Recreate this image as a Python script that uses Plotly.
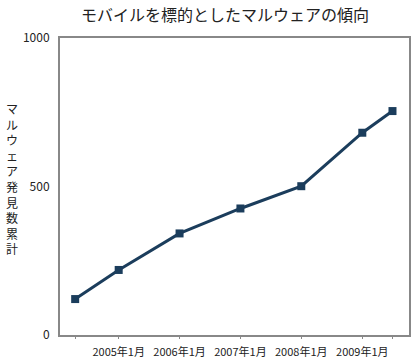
import plotly.graph_objects as go

dates = ["2004-04-15", "2005-01-01", "2006-01-01", "2007-01-01", "2008-01-01", "2009-01-01", "2009-07-01"]
values = [121, 219, 342, 426, 501, 681, 754]
tick_labels = ["", "2005年1月", "2006年1月", "2007年1月", "2008年1月", "2009年1月", ""]
title_text = "モバイルを標的としたマルウェアの傾向"
y_title = "マルウェア発見数累計"

FONT = "Noto Sans CJK JP"
W, H = 416, 362
ML, MR, MT, MB = 60, 7, 38, 27

fig = go.Figure()
fig.add_trace(go.Scatter(
    x=dates, y=values, mode="lines+markers",
    line=dict(color="#1b3d5c", width=3),
    marker=dict(symbol="square", size=8, color="#1b3d5c"),
    showlegend=False,
))

fig.update_layout(
    width=W, height=H,
    margin=dict(l=ML, r=MR, t=MT, b=MB),
    paper_bgcolor="white", plot_bgcolor="white",
    font=dict(family=FONT, size=11, color="#222"),
    title=dict(text=title_text, x=225 / W, xanchor="center", y=1 - 15 / H, yanchor="middle",
               font=dict(family=FONT, size=16, color="#222")),
    xaxis=dict(
        type="date", range=["2004-01-15", "2009-10-08"], automargin=False,
        tickmode="array", tickvals=dates, ticktext=tick_labels,
        ticks="outside", ticklen=2, tickcolor="#888", tickwidth=1,
        showline=True, linecolor="#888", linewidth=2, mirror=True,
        showgrid=False, zeroline=False, ticklabelstandoff=4,
        tickfont=dict(family=FONT, size=11, color="#222"),
    ),
    yaxis=dict(
        range=[0, 1000], tickvals=[0, 500, 1000], ticktext=["0", "500", "1000"], automargin=False,
        ticks="", showline=True, linecolor="#888", linewidth=2, mirror=True,
        showgrid=False, zeroline=False, ticklabelstandoff=6,
        tickfont=dict(family=FONT, size=12, color="#222"),
    ),
)

plot_h = H - MT - MB
center_px = 105 + 147 / 2
fig.add_annotation(
    text="<br>".join(list(y_title)), xref="paper", yref="paper",
    x=(12 - ML) / (W - ML - MR), y=(H - MB - center_px) / plot_h,
    xanchor="center", yanchor="middle", showarrow=False, align="center",
    font=dict(family=FONT, size=12, color="#222"),
)

fig.write_html("out.html", config={"displayModeBar": False},
               post_script="document.body.style.margin='0';document.body.style.padding='0';")
